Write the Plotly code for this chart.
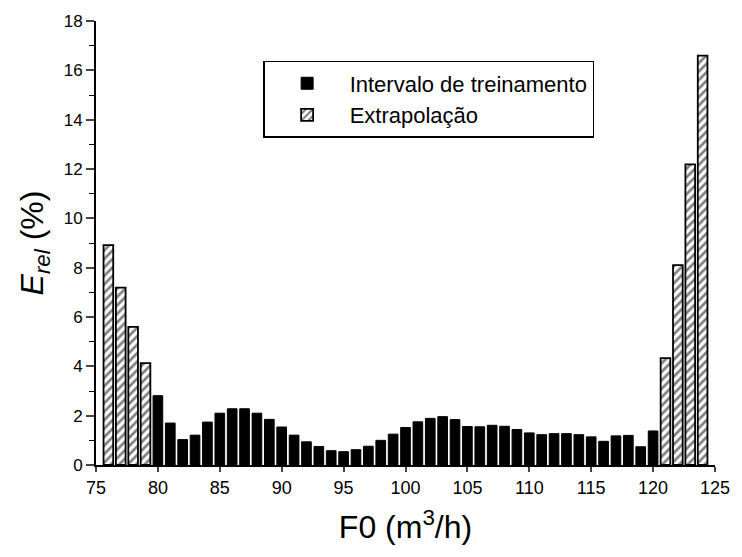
import plotly.graph_objects as go

# Data
train_x = list(range(80, 121))
train_y = [2.81, 1.70, 1.03, 1.21, 1.74, 2.10, 2.28, 2.28, 2.10, 1.85,
           1.54, 1.21, 0.94, 0.75, 0.58, 0.54, 0.62, 0.76, 1.00, 1.25,
           1.52, 1.75, 1.89, 1.96, 1.84, 1.56, 1.55, 1.61, 1.57, 1.44,
           1.30, 1.23, 1.27, 1.27, 1.23, 1.14, 0.96, 1.18, 1.20, 0.74,
           1.38]
extra_x = [76, 77, 78, 79, 121, 122, 123, 124]
extra_y = [8.91, 7.19, 5.60, 4.13, 4.33, 8.10, 12.19, 16.60]

x_ticks = list(range(75, 126, 5))
y_ticks = list(range(0, 19, 2))

FONT = "Liberation Sans, Arial, sans-serif"

fig = go.Figure()
fig.add_trace(go.Bar(
    x=train_x, y=train_y, name="Intervalo de treinamento",
    width=0.78,
    marker=dict(color="black", line=dict(color="black", width=1)),
))
fig.add_trace(go.Bar(
    x=extra_x, y=extra_y, name="Extrapolação",
    width=0.78,
    marker=dict(color="white", line=dict(color="black", width=1.8),
                pattern=dict(shape="/", fgcolor="black", bgcolor="white",
                             size=6, solidity=0.45)),
))

fig.update_layout(
    width=742, height=557,
    margin=dict(l=96, r=16, t=17, b=92),
    paper_bgcolor="white", plot_bgcolor="white",
    font=dict(family=FONT, color="black", size=16),
    barmode="overlay",
    showlegend=True,
    legend=dict(
        x=0.27, y=0.91, xanchor="left", yanchor="top",
        bordercolor="black", borderwidth=1.5, bgcolor="white",
        font=dict(size=22, family=FONT),
        itemwidth=75,
        tracegroupgap=2,
    ),
    xaxis=dict(
        range=[75, 125], tickvals=x_ticks, ticktext=[str(v) for v in x_ticks],
        showgrid=False, zeroline=False, showline=True, linecolor="black",
        linewidth=2, ticks="outside", ticklen=5, tickwidth=1.5,
        tickfont=dict(size=18),
        title=dict(text="F0 (m<sup>3</sup>/h)", font=dict(size=32), standoff=19),
    ),
    yaxis=dict(
        range=[0, 18], tickvals=y_ticks, ticktext=[str(v) for v in y_ticks],
        showgrid=False, zeroline=False, showline=True, linecolor="black",
        linewidth=2, ticks="outside", ticklen=8, tickwidth=1.5,
        tickfont=dict(size=17),
        minor=dict(dtick=1, ticks="outside", ticklen=5, tickwidth=1.2,
                   showgrid=False, tickcolor="black"),
        title=dict(text="<i>E<sub>rel</sub></i> (%)", font=dict(size=32), standoff=10),
    ),
)

fig.write_html("out.html")
